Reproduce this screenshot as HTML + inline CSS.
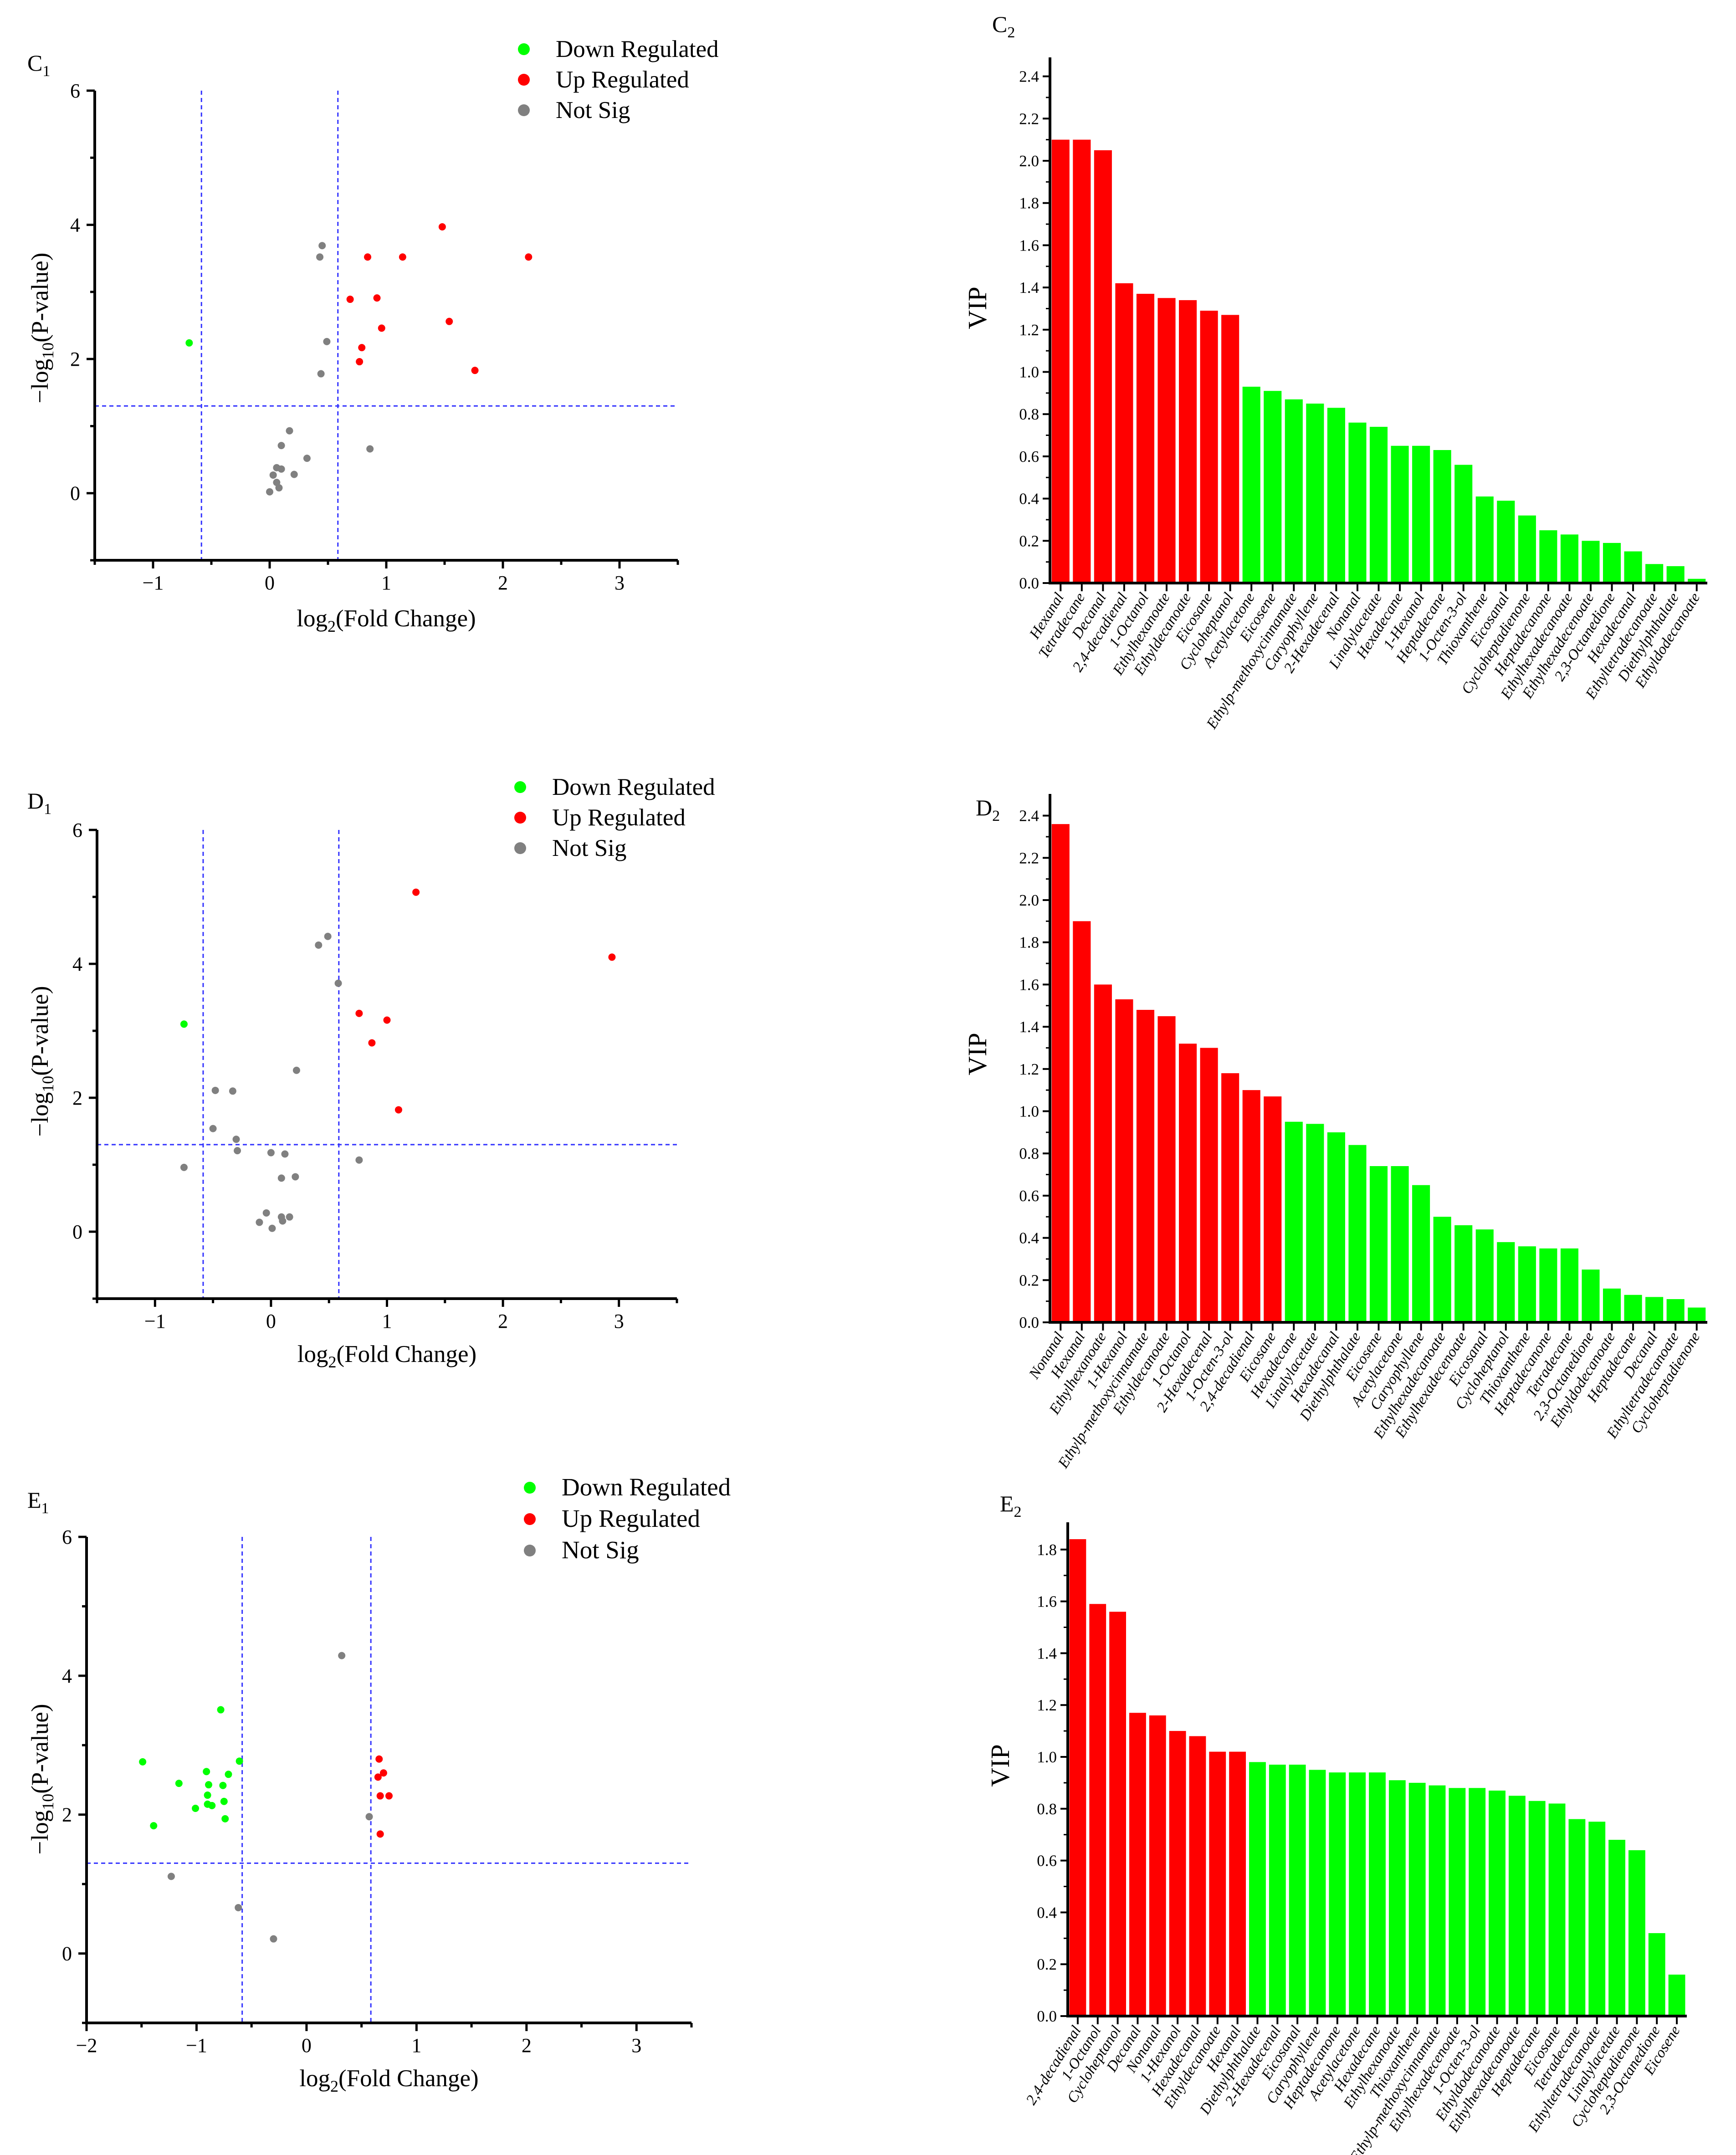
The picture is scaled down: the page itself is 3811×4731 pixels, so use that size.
<!DOCTYPE html>
<html><head><meta charset="utf-8">
<style>
html,body{margin:0;padding:0;background:#fff;}
svg{display:block;font-family:"Liberation Serif",serif;}
</style></head>
<body>
<svg id="fig" xmlns="http://www.w3.org/2000/svg" width="3811" height="4731" viewBox="0 0 3811 4731"></svg>
<script>
// ---------- Volcano data ----------
const c1X=[-0.69,1.48,0.84,1.14,2.22,0.69,0.92,1.54,0.96,0.79,0.77,1.76,0.45,0.43,0.49,0.44,0.17,0.10,0.32,0.06,0.10,0.03,0.21,0.06,0.08,0.0,0.86];
const c1Y=[2.24,3.97,3.52,3.52,3.52,2.89,2.91,2.56,2.46,2.17,1.96,1.83,3.69,3.52,2.26,1.78,0.93,0.71,0.52,0.38,0.36,0.27,0.28,0.16,0.08,0.02,0.66];
const c1Cls=['d','u','u','u','u','u','u','u','u','u','u','u','n','n','n','n','n','n','n','n','n','n','n','n','n','n','n'];
const d1X=[-0.75,1.25,2.94,0.76,1.00,0.87,1.10,0.49,0.41,0.58,0.22,-0.48,-0.33,-0.50,-0.30,-0.29,0.0,0.12,0.76,-0.75,0.09,0.21,-0.04,0.09,0.16,-0.10,0.10,0.01];
const d1Y=[3.10,5.07,4.10,3.26,3.16,2.82,1.82,4.41,4.28,3.71,2.41,2.11,2.10,1.54,1.38,1.21,1.18,1.16,1.07,0.96,0.80,0.82,0.28,0.22,0.22,0.14,0.16,0.05];
const d1Cls=['d','u','u','u','u','u','u','n','n','n','n','n','n','n','n','n','n','n','n','n','n','n','n','n','n','n','n','n'];
const e1X=[-0.78,-1.49,-0.61,-0.91,-0.71,-1.16,-0.89,-0.76,-0.90,-0.75,-0.90,-0.86,-1.01,-0.74,-1.39,0.66,0.70,0.65,0.67,0.75,0.67,0.32,0.57,-1.23,-0.62,-0.30];
const e1Y=[3.51,2.76,2.77,2.62,2.58,2.45,2.43,2.42,2.28,2.19,2.15,2.13,2.09,1.94,1.84,2.80,2.60,2.54,2.27,2.27,1.72,4.29,1.97,1.11,0.66,0.21];
const e1Cls=['d','d','d','d','d','d','d','d','d','d','d','d','d','d','d','u','u','u','u','u','u','n','n','n','n','n'];
const volcanoYTicks=[0,2,4,6];
const c1XTicks=[-1,0,1,2,3];
const e1XTicks=[-2,-1,0,1,2,3];
const legendLabels=['Down Regulated','Up Regulated','Not Sig'];

// ---------- VIP data ----------
const c2Names=['Hexanal','Tetradecane','Decanal','2,4-decadienal','1-Octanol','Ethylhexanoate','Ethyldecanoate','Eicosane','Cycloheptanol','Acetylacetone','Eicosene','Ethylp-methoxycinnamate','Caryophyllene','2-Hexadecenal','Nonanal','Linalylacetate','Hexadecane','1-Hexanol','Heptadecane','1-Octen-3-ol','Thioxanthene','Eicosanal','Cycloheptadienone','Heptadecanone','Ethylhexadecanoate','Ethylhexadecenoate','2,3-Octanedione','Hexadecanal','Ethyltetradecanoate','Diethylphthalate','Ethyldodecanoate'];
const c2Vals=[2.10,2.10,2.05,1.42,1.37,1.35,1.34,1.29,1.27,0.93,0.91,0.87,0.85,0.83,0.76,0.74,0.65,0.65,0.63,0.56,0.41,0.39,0.32,0.25,0.23,0.20,0.19,0.15,0.09,0.08,0.02];
const c2Red=9;
const d2Names=['Nonanal','Hexanal','Ethylhexanoate','1-Hexanol','Ethylp-methoxycinnamate','Ethyldecanoate','1-Octanol','2-Hexadecenal','1-Octen-3-ol','2,4-decadienal','Eicosane','Hexadecane','Linalylacetate','Hexadecanal','Diethylphthalate','Eicosene','Acetylacetone','Caryophyllene','Ethylhexadecanoate','Ethylhexadecenoate','Eicosanal','Cycloheptanol','Thioxanthene','Heptadecanone','Tetradecane','2,3-Octanedione','Ethyldodecanoate','Heptadecane','Decanal','Ethyltetradecanoate','Cycloheptadienone'];
const d2Vals=[2.36,1.90,1.60,1.53,1.48,1.45,1.32,1.30,1.18,1.10,1.07,0.95,0.94,0.90,0.84,0.74,0.74,0.65,0.50,0.46,0.44,0.38,0.36,0.35,0.35,0.25,0.16,0.13,0.12,0.11,0.07];
const d2Red=11;
const e2Names=['2,4-decadienal','1-Octanol','Cycloheptanol','Decanal','Nonanal','1-Hexanol','Hexadecanal','Ethyldecanoate','Hexanal','Diethylphthalate','2-Hexadecenal','Eicosanal','Caryophyllene','Heptadecanone','Acetylacetone','Hexadecane','Ethylhexanoate','Thioxanthene','Ethylp-methoxycinnamate','Ethylhexadecenoate','1-Octen-3-ol','Ethyldodecanoate','Ethylhexadecanoate','Heptadecane','Eicosane','Tetradecane','Ethyltetradecanoate','Linalylacetate','Cycloheptadienone','2,3-Octanedione','Eicosene'];
const e2Vals=[1.84,1.59,1.56,1.17,1.16,1.10,1.08,1.02,1.02,0.98,0.97,0.97,0.95,0.94,0.94,0.94,0.91,0.90,0.89,0.88,0.88,0.87,0.85,0.83,0.82,0.76,0.75,0.68,0.64,0.32,0.16];
const e2Red=9;
const c2Ticks=[0,0.2,0.4,0.6,0.8,1.0,1.2,1.4,1.6,1.8,2.0,2.2,2.4];
const e2Ticks=[0,0.2,0.4,0.6,0.8,1.0,1.2,1.4,1.6,1.8];

const NS='http://www.w3.org/2000/svg';
const svg=document.getElementById('fig');
function mk(tag,attrs,parent){const e=document.createElementNS(NS,tag);for(const k in attrs)e.setAttribute(k,attrs[k]);(parent||svg).appendChild(e);return e;}
const colors={d:'#00ff00',u:'#ff0000',n:'#808080'};

function volcano(id,letter,X,Y,C,xt,f){
  const g=mk('g',{});
  
  
  const sx=v=>f.x0+(v-f.xmin)/(f.xmax-f.xmin)*(f.x1-f.x0);
  const sy=v=>f.y1-(v-(-1))/(7)*(f.y1-f.y0);
  [-0.585,0.585].forEach(v=>{const l=mk('line',{x1:sx(v),x2:sx(v),y1:f.y0,y2:f.y1,stroke:'#3333ff','stroke-width':3,'stroke-dasharray':'9,7'},g);
    });
  const hl=mk('line',{x1:f.x0,x2:f.x1,y1:sy(1.3),y2:sy(1.3),stroke:'#3333ff','stroke-width':3,'stroke-dasharray':'9,7'},g);
  
  const ax=mk('path',{d:`M${f.x0},${f.y0}V${f.y1}H${f.x1}`,fill:'none',stroke:'#000','stroke-width':6},g);
  
  for(let v=-1;v<=6;v++){mk('line',{x1:f.x0-(v%2===0?18:10),x2:f.x0,y1:sy(v),y2:sy(v),stroke:'#000','stroke-width':5},g);}
  volcanoYTicks.forEach(v=>{const t=mk('text',{x:f.x0-32,y:sy(v)+15,'font-size':44,'text-anchor':'end'},g);t.textContent=v;
    });
  for(let v=f.xmin;v<=f.xmax+0.001;v+=0.5){const major=Math.abs(v-Math.round(v))<0.01;mk('line',{x1:sx(v),x2:sx(v),y1:f.y1,y2:f.y1+(major?18:10),stroke:'#000','stroke-width':5},g);}
  xt.forEach(v=>{const t=mk('text',{x:sx(v),y:f.y1+64,'font-size':44,'text-anchor':'middle'},g);t.textContent=(v<0?'\u2212':'')+Math.abs(v);
    });
  X.forEach((x,i)=>{const c=mk('circle',{cx:sx(x),cy:sy(Y[i]),r:8,fill:colors[C[i]]},g);
    });
  const yt=mk('text',{transform:`translate(${f.ytx},${f.yty}) rotate(-90)`,'font-size':53,'text-anchor':'middle'},g);
  yt.innerHTML='\u2212log<tspan font-size="36" dy="12">10</tspan><tspan dy="-12">(P-value)</tspan>';
  
  const xtt=mk('text',{x:(f.x0+f.x1)/2,y:f.xty,'font-size':53,'text-anchor':'middle'},g);
  xtt.innerHTML='log<tspan font-size="36" dy="12">2</tspan><tspan dy="-12">(Fold Change)</tspan>';
  
  const pl=mk('text',{x:60,y:f.ly,'font-size':50},g);
  pl.innerHTML=letter+'<tspan font-size="34" dy="12">1</tspan>';
  
  legendLabels.forEach((s,i)=>{const cy=f.legY+i*f.legGap;const k=['d','u','n'][i];
    const c=mk('circle',{cx:f.legX,cy:cy,r:13,fill:colors[k]},g);
    const t=mk('text',{x:f.legX+70,y:cy+17,'font-size':f.legFs},g);t.textContent=s;});
}
volcano('c1','C',c1X,c1Y,c1Cls,c1XTicks,{x0:208,x1:1488,xmin:-1.5,xmax:3.5,y0:199,y1:1230,ytx:105,yty:720,xty:1375,ly:155,legX:1150,legY:108,legGap:67,legFs:53});
volcano('d1','D',d1X,d1Y,d1Cls,c1XTicks,{x0:213,x1:1486,xmin:-1.5,xmax:3.5,y0:1822,y1:2851,ytx:105,yty:2330,xty:2990,ly:1775,legX:1142,legY:1728,legGap:67,legFs:53});
volcano('e1','E',e1X,e1Y,e1Cls,e1XTicks,{x0:190,x1:1518,xmin:-2,xmax:3.5,y0:3374,y1:4441,ytx:105,yty:3906,xty:4580,ly:3310,legX:1163,legY:3266,legGap:69,legFs:55});

function vip(id,letter,names,vals,nRed,ticks,f){
  const g=mk('g',{});
  
  
  const sy=v=>f.zero-v*f.pu;
  const slot=(f.x1-f.x0)/names.length;
  vals.forEach((v,i)=>{const x=f.x0+i*slot+slot*0.08;
    const b=mk('rect',{x:x,y:sy(v),width:slot*0.84,height:f.zero-sy(v),fill:i<nRed?'#ff0000':'#00ff00'},g);
    
    const cx=f.x0+(i+0.5)*slot;
    mk('line',{x1:cx,x2:cx,y1:f.zero,y2:f.zero+18,stroke:'#000','stroke-width':4},g);
    const t=mk('text',{transform:`translate(${cx+8},${f.zero+30}) rotate(-58)`,'font-size':33,'text-anchor':'end','font-style':'italic'},g);
    t.textContent=names[i];});
  const ax=mk('path',{d:`M${f.x0},${f.top}V${f.zero}H${f.x1}`,fill:'none',stroke:'#000','stroke-width':6},g);
  
  ticks.forEach((v,i)=>{mk('line',{x1:f.x0-16,x2:f.x0,y1:sy(v),y2:sy(v),stroke:'#000','stroke-width':4},g);
    if(i<ticks.length-1)mk('line',{x1:f.x0-9,x2:f.x0,y1:sy(v+0.1),y2:sy(v+0.1),stroke:'#000','stroke-width':3},g);
    const t=mk('text',{x:f.x0-24,y:sy(v)+12,'font-size':35,'text-anchor':'end'},g);t.textContent=v.toFixed(1);
    });
  const yt=mk('text',{transform:`translate(${f.ytx},${f.yty}) rotate(-90)`,'font-size':58,'text-anchor':'middle'},g);
  yt.textContent='VIP';
  const pl=mk('text',{x:f.lx,y:f.ly,'font-size':50},g);
  pl.innerHTML=letter+'<tspan font-size="34" dy="12">2</tspan>';
  
}
vip('c2','C',c2Names,c2Vals,c2Red,c2Ticks,{x0:2305,x1:3748,top:126,zero:1280,pu:463.5,ytx:2165,yty:676,lx:2178,ly:70});
vip('d2','D',d2Names,d2Vals,d2Red,c2Ticks,{x0:2305,x1:3748,top:1743,zero:2903,pu:463.5,ytx:2165,yty:2314,lx:2142,ly:1790});
vip('e2','E',e2Names,e2Vals,e2Red,e2Ticks,{x0:2344,x1:3703,top:3342,zero:4426,pu:569,ytx:2215,yty:3876,lx:2195,ly:3318});
</script>
</body></html>
